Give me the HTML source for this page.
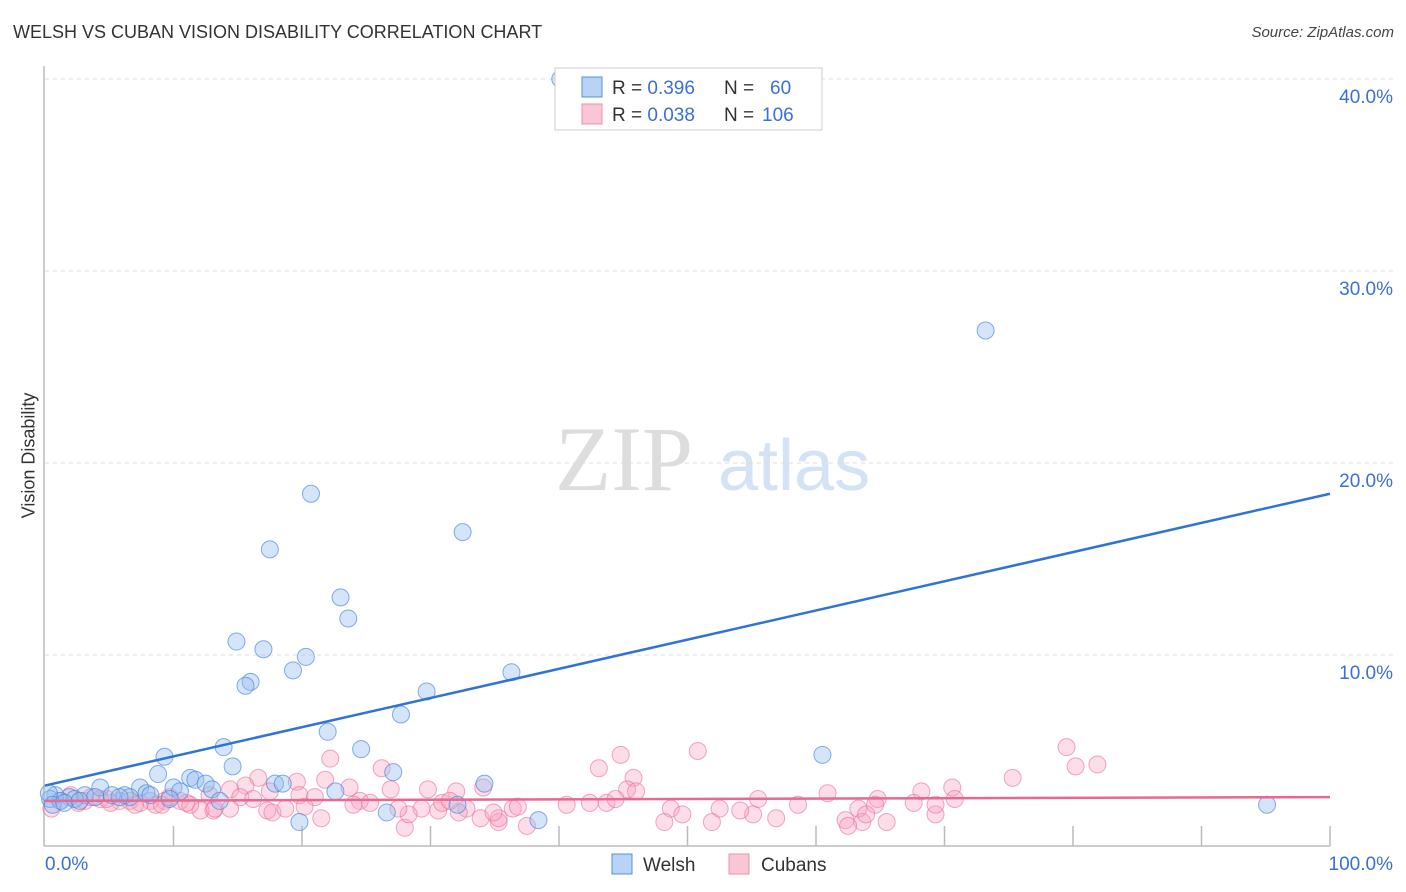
<!DOCTYPE html>
<html><head><meta charset="utf-8"><style>
body{margin:0;background:#fff;font-family:"Liberation Sans",sans-serif}
#wrap{position:relative;width:1406px;height:892px;overflow:hidden}
.t{position:absolute;white-space:nowrap}
</style></head><body>
<div id="wrap">
<div class="t" style="left:13px;top:22px;font-size:18px;color:#333">WELSH VS CUBAN VISION DISABILITY CORRELATION CHART</div>
<div class="t" style="right:12px;top:24px;font-size:15px;font-style:italic;color:#444">Source: ZipAtlas.com</div>
<div class="t" style="left:-34px;top:445px;font-size:18px;color:#333;transform:rotate(-90deg)">Vision Disability</div>
<svg id="svg" width="1406" height="892" style="position:absolute;left:0;top:0"></svg>
</div>
<script>
const welshX=[40.1,73.2,20.7,32.5,17.5,23,23.6,14.9,17,20.3,19.3,16,15.6,29.7,36.3,27.7,22,24.6,13.9,9.3,14.6,60.5,27.1,8.8,11.3,11.7,12.5,17.9,18.5,34.2,22.6,10,7.4,4.3,13,10.5,6.2,7.9,5.2,3.1,1.9,0.8,0.4,1.2,2.3,3.9,6.6,8.2,13.6,32.1,19.8,26.6,38.4,95.1,0.3,0.6,1.5,2.7,5.8,9.7];
const welshY=[40.0,26.9,18.4,16.4,15.5,13.0,11.9,10.7,10.3,9.9,9.2,8.6,8.4,8.1,9.1,6.9,6.0,5.1,5.2,4.7,4.2,4.8,3.9,3.8,3.6,3.5,3.3,3.3,3.3,3.3,2.9,3.1,3.1,3.1,3.0,2.9,2.7,2.8,2.7,2.7,2.6,2.7,2.5,2.4,2.5,2.6,2.6,2.7,2.4,2.2,1.3,1.8,1.4,2.2,2.8,2.2,2.3,2.4,2.6,2.5];
const cubanX=[22.2,44.8,50.8,79.5,80.2,81.9,75.3,43.1,26.2,45.8,16.6,19.6,21.8,23.7,45.3,46,68.2,70.6,29.8,34.1,32,26.9,15.6,14.4,17.5,19.8,21,12.8,10.5,9.3,8.2,5.8,3.1,4.3,1.2,15.2,43.7,42.4,40.6,44.4,55.5,58.6,60.9,64.8,64.6,70.8,67.6,69.3,52.5,48.7,49.6,55.1,56.9,51.9,54.1,62.3,63.3,63.6,63.9,62.5,69.3,65.5,48.2,28,37.5,35.3,35.3,36.4,32.8,29.3,28.3,30.6,30.9,32.2,33.9,34.9,24.5,25.3,13.1,12.1,17.3,17.7,18.7,20.2,21.5,14.4,11.3,8.6,9.1,7.4,5.1,6.6,9.7,0.5,2.0,2.6,3.6,4.8,7.0,11.0,13.2,16.2,24.0,27.5,31.5,36.8];
const cubanY=[4.6,4.8,5.0,5.2,4.2,4.3,3.6,4.1,4.1,3.6,3.6,3.4,3.5,3.1,3.0,2.9,2.9,3.1,3.0,3.1,2.9,3.0,3.2,3.0,2.9,2.7,2.6,2.7,2.4,2.4,2.4,2.4,2.4,2.5,2.4,2.6,2.3,2.3,2.2,2.5,2.5,2.2,2.8,2.5,2.2,2.5,2.3,1.7,2.0,2.0,1.7,1.7,1.5,1.3,1.9,1.4,2.0,1.3,1.7,1.1,2.2,1.3,1.3,1.0,1.1,1.3,1.5,2.0,2.0,2.0,1.7,1.9,2.3,1.8,1.5,1.8,2.4,2.3,1.9,1.9,1.9,1.8,2.0,2.1,1.5,2.0,2.2,2.2,2.2,2.3,2.3,2.4,2.6,2.0,2.7,2.3,2.6,2.5,2.2,2.3,2.0,2.5,2.2,2.0,2.4,2.1];
const welshTrend=[3.2,18.4];
const cubanTrend=[2.4,2.6];
const yTicks=[10,20,30,40];
const yTickLabels=["10.0%","20.0%","30.0%","40.0%"];
const xTicks=[0,10,20,30,40,50,60,70,80,90,100];
const X=v=>45+v*12.85, Y=v=>847-v*19.2;
const NS="http://www.w3.org/2000/svg", svg=document.getElementById('svg');
function mk(tag,attrs,txt){const e=document.createElementNS(NS,tag);for(const k in attrs)e.setAttribute(k,attrs[k]);if(txt!==undefined)e.textContent=txt;svg.appendChild(e);return e;}
// watermark
let w1=mk('text',{x:555,y:490,'font-size':92,'font-family':'Liberation Serif,serif',fill:'#dddddd'},'ZIP');


let w2=mk('text',{x:718,y:490,'font-size':72,'font-family':'Liberation Sans,sans-serif',fill:'#d3e2f5'},'atlas');


yTicks.forEach((t,i)=>{
  let g=mk('line',{x1:45,x2:1393,y1:Y(t),y2:Y(t),stroke:'#dcdcdc','stroke-dasharray':'4,4'});
  
  
  let l=mk('text',{x:1393,y:Y(t)+24,'text-anchor':'end','font-size':19,fill:'#3b6fd6'},yTickLabels[i]);
  
  
});
let ax=mk('line',{x1:44,x2:44,y1:66,y2:846,stroke:'#bbb','stroke-width':1.5});


let bx=mk('line',{x1:44,x2:1330,y1:846,y2:846,stroke:'#bbb','stroke-width':1.5});


xTicks.forEach(t=>{if(t===0)return;
  let k=mk('line',{x1:X(t),x2:X(t),y1:826,y2:846,stroke:'#bbb','stroke-width':1.5});
  
  
});
let xl0=mk('text',{x:45,y:870,'font-size':19,fill:'#3b6fd6'},'0.0%');


let xl1=mk('text',{x:1393,y:870,'text-anchor':'end','font-size':19,fill:'#3b6fd6'},'100.0%');


cubanX.forEach((v,i)=>{
  let c=mk('circle',{cx:X(v),cy:Y(cubanY[i]),r:8.5,fill:'rgba(248,160,190,0.35)',stroke:'rgba(232,110,150,0.6)','stroke-width':1});
  
  
});
welshX.forEach((v,i)=>{
  let c=mk('circle',{cx:X(v),cy:Y(welshY[i]),r:8.5,fill:'rgba(150,190,240,0.4)',stroke:'rgba(70,130,220,0.65)','stroke-width':1});
  
  
});
let tl1=mk('line',{x1:X(0),y1:Y(welshTrend[0]),x2:X(100),y2:Y(welshTrend[1]),stroke:'#2f72d8','stroke-width':2.5});


let tl2=mk('line',{x1:X(0),y1:Y(cubanTrend[0]),x2:X(100),y2:Y(cubanTrend[1]),stroke:'#e8688f','stroke-width':2.5});


// top legend
let lb=mk('rect',{x:555,y:68,width:267,height:62,fill:'#fff',stroke:'#ccc'});


[['#b8d3f5','#5a90e0',77,'0.396','60','welsh'],['#f9c6d5','#e892ad',104,'0.038','106','cuban']].forEach(r=>{
  let s=mk('rect',{x:582,y:r[2],width:20,height:20,fill:r[0],stroke:r[1]});
  
  
  let t=mk('text',{x:612,y:r[2]+17,'font-size':19,fill:'#333'});
  
  
  t.innerHTML='R = <tspan fill="#3b6fd6">'+r[3]+'</tspan>  <tspan x="724">N = </tspan><tspan x="'+(r[4].length>2?762:770)+'" fill="#3b6fd6">'+r[4]+'</tspan>';
});
// bottom legend
[['#b8d3f5','#5a90e0',612,'Welsh',643],['#f9c6d5','#e892ad',729,'Cubans',761]].forEach(r=>{
  let s=mk('rect',{x:r[2],y:854,width:20,height:20,fill:r[0],stroke:r[1]});
  
  
  let t=mk('text',{x:r[4],y:871,'font-size':19,fill:'#333'},r[3]);
  
  
});
</script>
</body></html>
